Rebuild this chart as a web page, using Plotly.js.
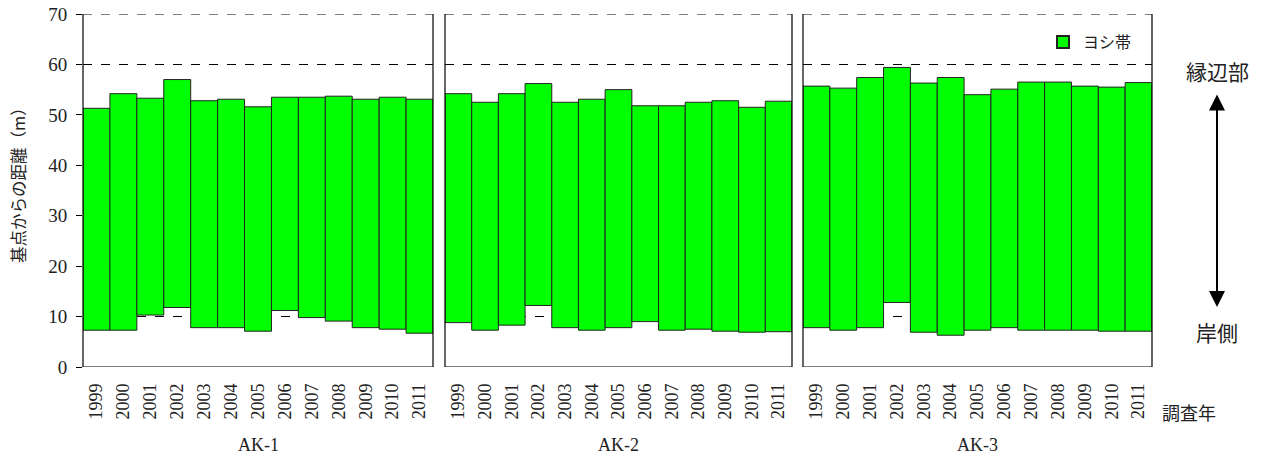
<!DOCTYPE html>
<html>
<head>
<meta charset="utf-8">
<script src="https://cdn.plot.ly/plotly-3.0.1.min.js"></script>
<style>html,body{margin:0;padding:0;background:#fff;}#chart{width:1263px;height:460px;}</style>
</head>
<body>
<div id="chart"></div>
<script>
const years = ["1999","2000","2001","2002","2003","2004","2005","2006","2007","2008","2009","2010","2011"];
const panels = ["AK-1","AK-2","AK-3"];
const ak1Top = [51.3,54.2,53.3,57.0,52.8,53.1,51.6,53.5,53.5,53.7,53.1,53.5,53.1];
const ak1Bottom = [7.3,7.3,10.3,11.8,7.8,7.8,7.1,11.2,9.8,9.1,7.8,7.5,6.7];
const ak2Top = [54.2,52.5,54.2,56.2,52.5,53.1,55.0,51.8,51.8,52.5,52.8,51.5,52.7];
const ak2Bottom = [8.8,7.3,8.3,12.2,7.8,7.3,7.8,9.0,7.3,7.5,7.1,6.9,7.0];
const ak3Top = [55.7,55.3,57.4,59.4,56.3,57.4,54.0,55.1,56.5,56.5,55.7,55.5,56.4];
const ak3Bottom = [7.8,7.3,7.8,12.8,6.9,6.3,7.3,7.8,7.3,7.3,7.3,7.1,7.1];
const seriesName = "ヨシ帯";
const yTitle = "基点からの距離（m）";

const W = 1263, H = 460;
const px = v => v / W;
const py = v => 1 - v / H;
const domains = [[px(83), px(433)], [px(445), px(792)], [px(803), px(1152)]];
const yDom = [py(367), py(14)];

const tops = [ak1Top, ak2Top, ak3Top];
const bottoms = [ak1Bottom, ak2Bottom, ak3Bottom];
const serif = "Liberation Serif, DejaVu Serif, serif";
const jp = "Noto Sans CJK JP, sans-serif";

const traces = tops.map((t, i) => ({
  type: "bar",
  x: years,
  y: t.map((v, j) => v - bottoms[i][j]),
  base: bottoms[i],
  name: seriesName,
  showlegend: i === 0,
  xaxis: i === 0 ? "x" : "x" + (i + 1),
  yaxis: "y",
  marker: {color: "#00ff00", line: {color: "#222", width: 1}},
  hoverinfo: "skip"
}));

const layout = {
  width: W, height: H, autosize: false,
  margin: {l: 0, r: 0, t: 0, b: 0},
  paper_bgcolor: "#fff", plot_bgcolor: "#fff",
  bargap: 0,
  showlegend: true,
  legend: {x: px(1043), y: py(25), xanchor: "left", yanchor: "top",
    font: {family: jp, size: 16, color: "#222"}, bgcolor: "rgba(0,0,0,0)",
    itemwidth: 30, itemsizing: "constant"},
  yaxis: {domain: yDom, range: [0, 70], dtick: 10, tick0: 0, anchor: "x",
    showgrid: true, gridcolor: "#000", griddash: "dash", gridwidth: 1,
    zeroline: false, showline: false, ticks: "outside", ticklen: 6, tickcolor: "#000",
    ticklabelstandoff: 5,
    tickfont: {family: serif, size: 19, color: "#222"}, fixedrange: true},
  annotations: [],
  shapes: []
};
for (let i = 0; i < 3; i++) {
  const k = i === 0 ? "xaxis" : "xaxis" + (i + 1);
  layout[k] = {domain: domains[i], anchor: "y", type: "category",
    range: [-0.5, years.length - 0.5], tickangle: -90, ticks: "", showgrid: false,
    zeroline: false, showline: false, ticklabelstandoff: 12,
    tickfont: {family: serif, size: 18, color: "#222"}, fixedrange: true};
  const xr = i === 0 ? "x domain" : "x" + (i + 1) + " domain";
  const lineStyle = {color: "#000", width: 1.2};
  layout.shapes.push({type: "line", xref: xr, yref: "y", x0: 0, x1: 0, y0: 0, y1: 70, line: lineStyle, layer: "above"});
  layout.shapes.push({type: "line", xref: xr, yref: "y", x0: 1, x1: 1, y0: 0, y1: 70, line: lineStyle, layer: "above"});
  layout.shapes.push({type: "line", xref: xr, yref: "y", x0: 0, x1: 1, y0: 0, y1: 0, line: lineStyle, layer: "above"});
  layout.shapes.push({type: "line", xref: xr, yref: "y", x0: 0, x1: 1, y0: 70, y1: 70,
    line: {color: "#000", width: 1.2, dash: "dash"}, layer: "above"});
  layout.annotations.push({xref: "paper", yref: "paper", x: (domains[i][0] + domains[i][1]) / 2,
    y: py(445), xanchor: "center", yanchor: "middle", text: panels[i], showarrow: false,
    font: {family: serif, size: 18, color: "#222"}});
}
layout.annotations.push(
  {xref: "paper", yref: "paper", x: px(18), y: py(181), xanchor: "center", yanchor: "middle",
    text: yTitle, textangle: -90, showarrow: false, font: {family: jp, size: 16.5, color: "#222"}},
  {xref: "paper", yref: "paper", x: px(1217), y: py(71), xanchor: "center", yanchor: "middle",
    text: "縁辺部", showarrow: false, font: {family: jp, size: 21, color: "#222"}},
  {xref: "paper", yref: "paper", x: px(1217), y: py(332), xanchor: "center", yanchor: "middle",
    text: "岸側", showarrow: false, font: {family: jp, size: 21, color: "#222"}},
  {xref: "paper", yref: "paper", x: px(1189), y: py(412), xanchor: "center", yanchor: "middle",
    text: "調査年", showarrow: false, font: {family: jp, size: 18, color: "#222"}},
  {xref: "paper", yref: "paper", x: px(1217), y: py(307), ax: 0, ay: -214, axref: "pixel", ayref: "pixel",
    text: "", showarrow: true, arrowhead: 2, arrowside: "end+start", arrowsize: 1.6, arrowwidth: 2, arrowcolor: "#000"}
);

Plotly.newPlot("chart", traces, layout, {displayModeBar: false, staticPlot: true});
</script>
</body>
</html>
